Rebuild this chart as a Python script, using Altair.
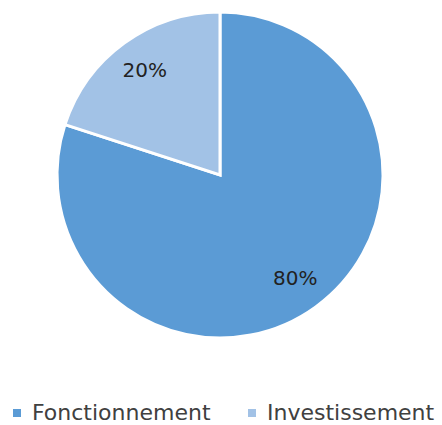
import altair as alt
import pandas as pd

categories = ["Fonctionnement", "Investissement"]
values = [80, 20]
labels = ["80%", "20%"]
order = [1, 2]

df = pd.DataFrame({"cat": categories, "val": values, "lab": labels, "ord": order})

color = alt.Color("cat:N", scale=alt.Scale(domain=categories, range=["#5B9BD5", "#A2C2E6"]),
                  legend=alt.Legend(title=None, orient="none", legendX=6, legendY=402,
                                    padding=0, direction="horizontal", symbolType="square",
                                    symbolSize=64, labelFontSize=22, labelFont="DejaVu Sans",
                                    labelColor="#404040", labelOffset=4, labelLimit=400,
                                    columnPadding=30, symbolStrokeWidth=0))

base = alt.Chart(df).encode(
    theta=alt.Theta("val:Q", stack=True),
    order=alt.Order("ord:Q"),
)

pie = base.mark_arc(x=220, y=175, outerRadius=163, stroke="white", strokeWidth=3).encode(color=color)
text = base.mark_text(x=220, y=175, radius=128, fontSize=20, font="DejaVu Sans",
                      color="#222222").encode(text="lab:N")

chart = (pie + text).properties(width=442, height=425, padding=0,
                                autosize=alt.AutoSizeParams(type="none")).configure_view(stroke=None)

chart.save("out.html", embed_options={"renderer": "svg", "actions": False})
